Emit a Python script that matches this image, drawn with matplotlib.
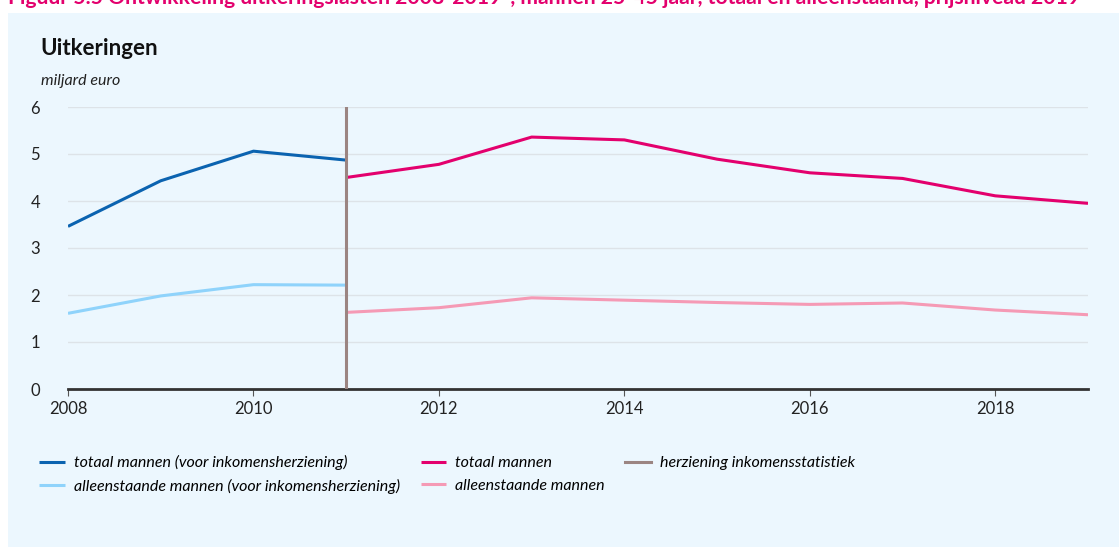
import matplotlib.pyplot as plt
from matplotlib.patches import Rectangle

plt.rcParams['font.family'] = ['Lato', 'DejaVu Sans']

# data (miljard euro)
jaren_oud = [2008, 2009, 2010, 2011]
totaal_oud = [3.46, 4.43, 5.06, 4.87]
alleen_oud = [1.61, 1.98, 2.22, 2.21]

jaren_nieuw = [2011, 2012, 2013, 2014, 2015, 2016, 2017, 2018, 2019]
totaal_nieuw = [4.50, 4.78, 5.36, 5.30, 4.89, 4.60, 4.48, 4.11, 3.95]
alleen_nieuw = [1.63, 1.73, 1.94, 1.89, 1.84, 1.80, 1.83, 1.68, 1.58]

herziening_jaar = 2011
xticks = [2008, 2010, 2012, 2014, 2016, 2018]
yticks = [0, 1, 2, 3, 4, 5, 6]

bg = '#ecf7fe'
c_totaal_oud = '#0b63b0'
c_alleen_oud = '#8fd3fb'
c_totaal = '#e3006d'
c_alleen = '#f59ab5'
c_herz = '#9b8582'

W, H = 1119, 547
fig = plt.figure(figsize=(W / 100, H / 100), dpi=100)
fig.patch.set_facecolor('white')

# lichtblauw paneel
fig.patches.append(Rectangle((8 / W, 0), 1 - 8 / W, 1 - 13 / H, transform=fig.transFigure,
                             facecolor=bg, edgecolor='none', zorder=-5))

# afgesneden figuurtitel bovenaan (ook in het origineel half buiten beeld)
fig.text(8 / W, 1 - 4 / H, 'Figuur 5.5 Ontwikkeling uitkeringslasten 2008-2019*, mannen 25-45 jaar, '
         'totaal en alleenstaand, prijsniveau 2019',
         color='#e3006d', fontsize=15.2, fontweight='bold', va='baseline', ha='left')

fig.text(40 / W, 1 - 55 / H, 'Uitkeringen', fontsize=16, fontweight='bold', color='#111111',
         va='baseline')
fig.text(41 / W, 1 - 85 / H, 'miljard euro', fontsize=11.5, style='italic', color='#222222',
         va='baseline')

ax = fig.add_axes([68 / W, (H - 389) / H, (1088 - 68) / W, (389 - 107) / H])
ax.set_facecolor('none')

l1, = ax.plot(jaren_oud, totaal_oud, color=c_totaal_oud, lw=2.2, solid_capstyle='butt')
l2, = ax.plot(jaren_oud, alleen_oud, color=c_alleen_oud, lw=2.2, solid_capstyle='butt')
l3, = ax.plot(jaren_nieuw, totaal_nieuw, color=c_totaal, lw=2.2, solid_capstyle='butt')
l4, = ax.plot(jaren_nieuw, alleen_nieuw, color=c_alleen, lw=2.2, solid_capstyle='butt')
l5 = ax.axvline(herziening_jaar, color=c_herz, lw=2.2, zorder=3)

ax.set_xlim(2008, 2019)
ax.set_ylim(0, 6)
ax.set_xticks(xticks)
ax.set_yticks(yticks)
ax.grid(axis='y', color='#dde3e8', lw=1)
ax.set_axisbelow(True)
for s in ['top', 'right', 'left']:
    ax.spines[s].set_visible(False)
ax.spines['bottom'].set_color('#333333')
ax.spines['bottom'].set_linewidth(2)
ax.tick_params(axis='y', length=0, pad=20, labelsize=12, labelcolor='#222222')
ax.tick_params(axis='x', length=5, width=0.8, color='#555555', pad=4, labelsize=12,
               labelcolor='#222222')

fig.legend([l1, l2, l3, l4, l5],
           ['totaal mannen (voor inkomensherziening)',
            'alleenstaande mannen (voor inkomensherziening)',
            'totaal mannen', 'alleenstaande mannen',
            'herziening inkomensstatistiek'],
           ncol=3, loc='upper left', bbox_to_anchor=(33 / W, 1 - 449 / H),
           frameon=False, handlelength=1.6, handletextpad=0.55, columnspacing=1.3,
           labelspacing=0.5, borderaxespad=0, prop={'style': 'italic', 'size': 11.5})

fig.savefig('out.png', dpi=100)
